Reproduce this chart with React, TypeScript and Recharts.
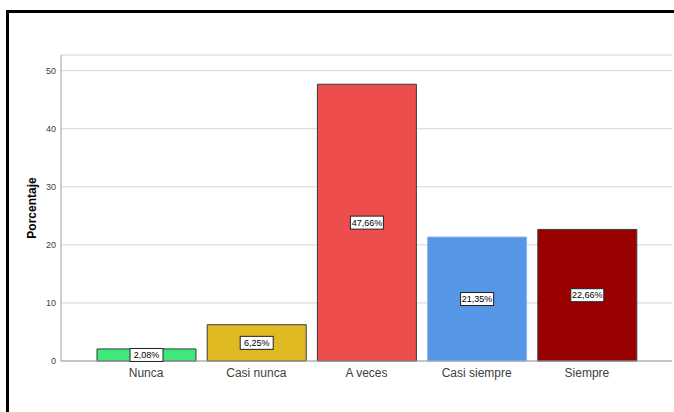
import { BarChart, Bar, XAxis, YAxis, CartesianGrid, Cell, LabelList } from 'recharts'

const categories = ['Nunca', 'Casi nunca', 'A veces', 'Casi siempre', 'Siempre']
const percentages = [2.08, 6.25, 47.66, 21.35, 22.66]
const barColors = ['#3ee87a', '#e0ba23', '#ee4d4d', '#5596e6', '#990000']
const barStrokes = ['#3a3a3a', '#3a3a3a', '#3a3a3a', '#8ab4ec', '#3a3a3a']
const yTicks = [0, 10, 20, 30, 40, 50]

const data = categories.map((name, i) => ({ name, value: percentages[i] }))

const fmt = (v: number) => v.toFixed(2).replace('.', ',') + '%'

function ValueLabel(props: any) {
  const { x, y, width, height, value } = props
  const cx = x + width / 2
  const cy = y + height / 2
  const w = 33
  const h = 13
  return (
    <g>
      <rect x={cx - w / 2} y={cy - h / 2} width={w} height={h} fill="#fff" stroke="#222" strokeWidth={1} />
      <text x={cx} y={cy + 3} textAnchor="middle" fontSize={9} fill="#000" fontFamily="Liberation Sans, Arial, sans-serif">
        {fmt(value)}
      </text>
    </g>
  )
}

export default function App() {
  return (
    <div style={{ position: 'absolute', left: 0, top: 0, width: 674, height: 412, background: '#fff', overflow: 'hidden', fontFamily: 'Liberation Sans, Arial, sans-serif' }}>
      <div style={{ position: 'absolute', left: 6, top: 10, width: 720, height: 440, border: '3px solid #000', boxSizing: 'border-box' }} />
      <div style={{ position: 'absolute', left: 0, top: 0 }}>
        <BarChart width={674} height={412} data={data} margin={{ top: 55, right: 2, bottom: 21, left: 0 }}>
          <CartesianGrid vertical={false} stroke="#d4d4d4" />
          <XAxis
            dataKey="name"
            padding={{ left: 30, right: 30 }}
            tickLine={false}
            tickSize={0}
            tickMargin={7}
            height={30}
            stroke="#a0a0a0"
            tick={{ fontSize: 12, fill: '#404040' }}
            interval={0}
          />
          <YAxis
            width={61}
            domain={[0, 52.7]}
            ticks={yTicks}
            tickLine={false}
            tickSize={0}
            tickMargin={5}
            stroke="#a0a0a0"
            tick={{ fontSize: 9, fill: '#404040' }}
            label={{ value: 'Porcentaje', angle: -90, position: 'insideLeft', offset: 32, style: { fontSize: 12, fontWeight: 'bold', fill: '#000', textAnchor: 'middle' } }}
          />
          <Bar dataKey="value" barSize={99} isAnimationActive={false}>
            {data.map((d, i) => (
              <Cell key={d.name} fill={barColors[i]} stroke={barStrokes[i]} strokeWidth={1} />
            ))}
            <LabelList dataKey="value" content={ValueLabel} />
          </Bar>
        </BarChart>
      </div>
    </div>
  )
}
